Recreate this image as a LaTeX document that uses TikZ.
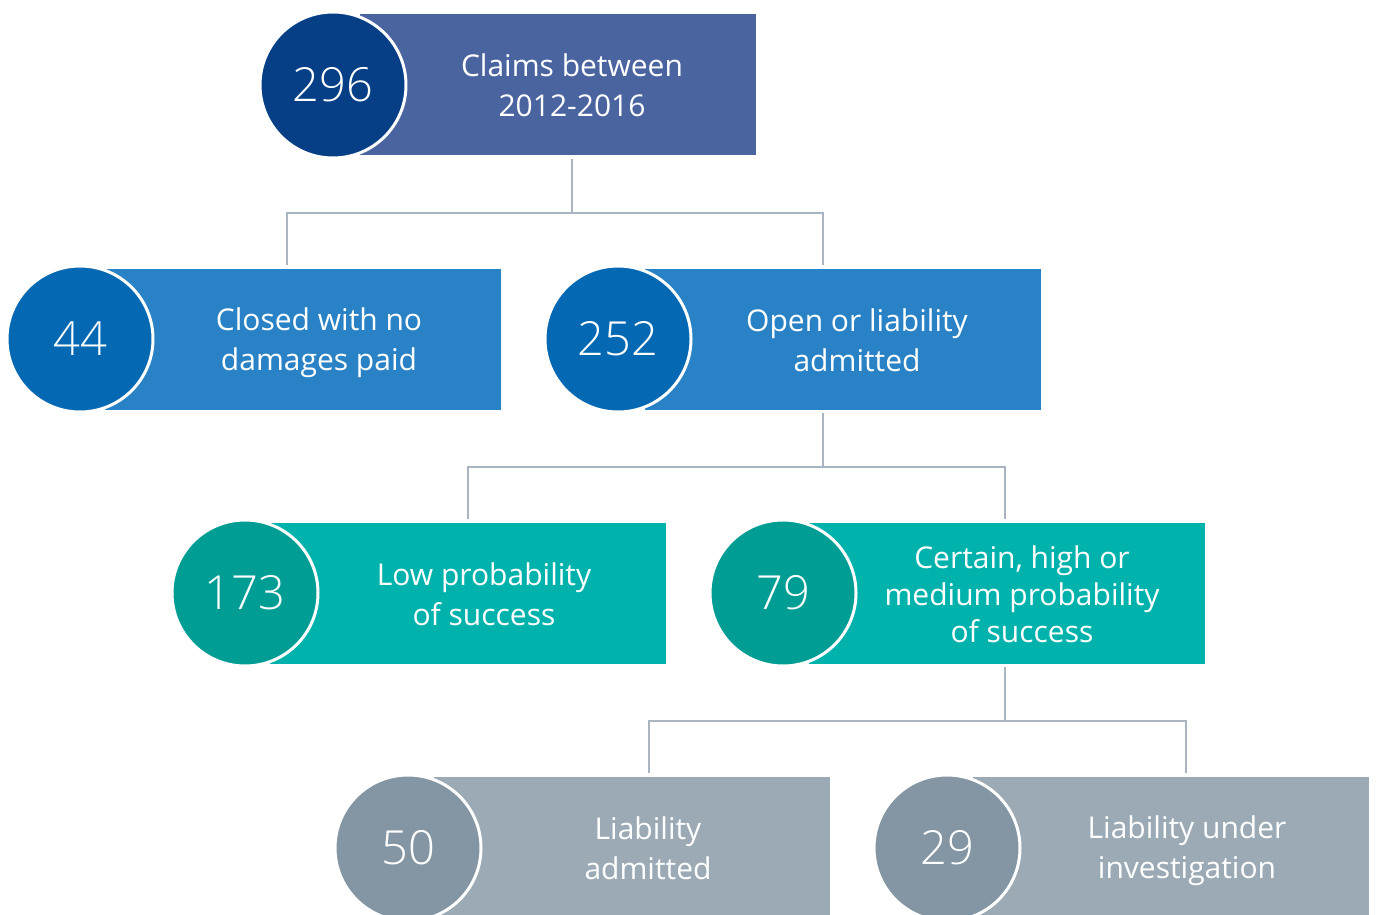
\documentclass[tikz,border=0pt]{standalone}
\usepackage{fontspec}
\setmainfont{Open Sans}
\newfontfamily\numfont{Open Sans Light}
\definecolor{cA}{HTML}{063F85}
\definecolor{rA}{HTML}{4A64A0}
\definecolor{cB}{HTML}{0568B3}
\definecolor{rB}{HTML}{2A82C6}
\definecolor{cC}{HTML}{009D94}
\definecolor{rC}{HTML}{00B2AC}
\definecolor{cD}{HTML}{8496A3}
\definecolor{rD}{HTML}{9BAAB5}
\definecolor{conn}{HTML}{A9B5C1}
\begin{document}
\begin{tikzpicture}[x=1pt,y=-1pt,
  bar/.style={rectangle, draw=none, minimum width=396pt, minimum height=141pt, inner sep=0pt},
  num/.style={circle, draw=white, line width=3pt, minimum size=146pt, inner sep=0pt, text=white, font=\numfont\fontsize{47}{50}\selectfont},
  lbl/.style={text=white, align=center, inner sep=0pt, font=\fontsize{30}{40}\selectfont},
  link/.style={draw=conn, line width=1.5pt}]
\useasboundingbox (0,0) rectangle (1376,915);
\clip (0,0) rectangle (1376,915);
% level 1
\node[bar, fill=rA] (r1) at (557.5,85) {};
\node[num, fill=cA] (c1) at (333,85) {296};
\node[lbl] (t1) at (572,85) {Claims between\\2012-2016};
% level 2
\node[bar, fill=rB] (r2) at (303,339) {};
\node[num, fill=cB] (c2) at (80,339) {44};
\node[lbl] (t2) at (319,343) {Closed with no\\damages paid};
\node[bar, fill=rB] (r3) at (842.5,339) {};
\node[num, fill=cB] (c3) at (618,339) {252};
\node[lbl] (t3) at (857,340) {Open or liability\\admitted};
% level 3
\node[bar, fill=rC] (r4) at (468,593) {};
\node[num, fill=cC] (c4) at (245,593) {173};
\node[lbl] (t4) at (484,594) {Low probability\\of success};
\node[bar, fill=rC] (r5) at (1006.5,593) {};
\node[num, fill=cC] (c5) at (783,593) {79};
\node[lbl, font=\fontsize{30}{37}\selectfont] (t5) at (1022,594) {Certain, high or\\medium probability\\of success};
% level 4
\node[bar, fill=rD] (r6) at (631.5,847.5) {};
\node[num, fill=cD] (c6) at (408,848) {50};
\node[lbl] (t6) at (648,848) {Liability\\admitted};
\node[bar, fill=rD] (r7) at (1170.5,847.5) {};
\node[num, fill=cD] (c7) at (947,848) {29};
\node[lbl] (t7) at (1187,851) {Liability under\\investigation};
% connectors
\coordinate (p1) at (572,159);
\coordinate (k2) at (287,265);
\coordinate (k3) at (823,265);
\draw[link] (p1) -- (572,213) -| (k2);
\draw[link] (572,213) -| (k3);
\coordinate (p3) at (823,413);
\coordinate (k4) at (468,519);
\coordinate (k5) at (1005,519);
\draw[link] (p3) -- (823,467) -| (k4);
\draw[link] (823,467) -| (k5);
\coordinate (p5) at (1005,667);
\coordinate (k6) at (649,773);
\coordinate (k7) at (1186,773);
\draw[link] (p5) -- (1005,721) -| (k6);
\draw[link] (1005,721) -| (k7);
\end{tikzpicture}
\end{document}
